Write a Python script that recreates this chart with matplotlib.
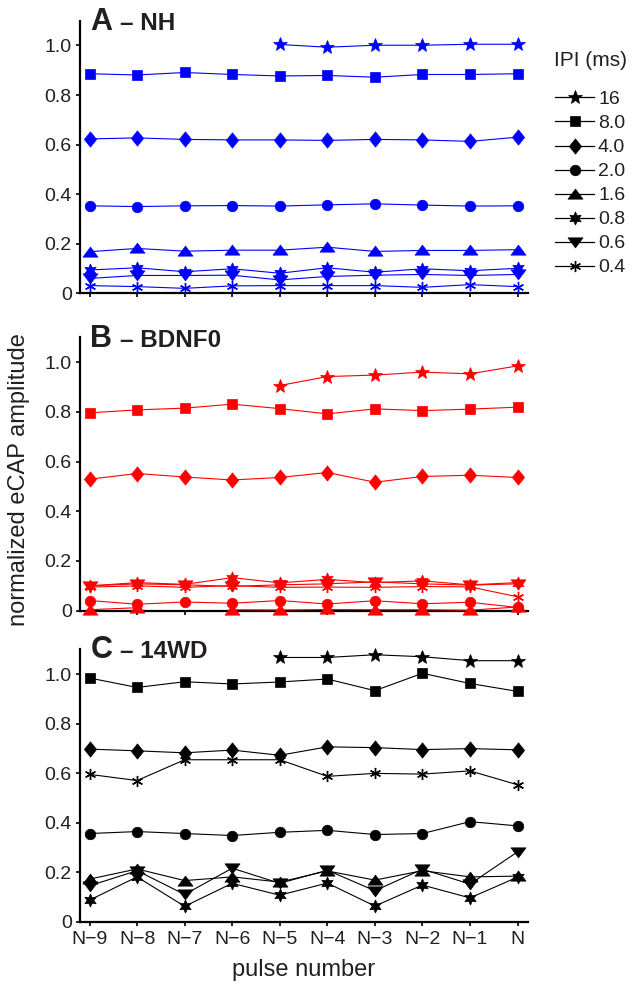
import numpy as np
import matplotlib
matplotlib.use("Agg")
import matplotlib.pyplot as plt
from matplotlib.lines import Line2D
from matplotlib.path import Path

plt.rcParams['font.family'] = ['Liberation Sans', 'DejaVu Sans']

nan = np.nan
pulse_labels = ["N\u22129", "N\u22128", "N\u22127", "N\u22126", "N\u22125",
                "N\u22124", "N\u22123", "N\u22122", "N\u22121", "N"]
ipi_labels = ["16", "8.0", "4.0", "2.0", "1.6", "0.8", "0.6", "0.4"]
panel_letters = ["A", "B", "C"]
panel_names = ["\u2013 NH", "\u2013 BDNF0", "\u2013 14WD"]
panel_colors = ["#0000ff", "#ff0000", "#000000"]

# Panel A - NH
nh_16 = [nan, nan, nan, nan, 1.004, 0.993, 1.001, 1.001, 1.005, 1.005]
nh_8 = [0.886, 0.881, 0.891, 0.883, 0.877, 0.879, 0.872, 0.883, 0.883, 0.886]
nh_4 = [0.623, 0.627, 0.621, 0.619, 0.619, 0.617, 0.621, 0.619, 0.613, 0.630]
nh_2 = [0.353, 0.350, 0.353, 0.354, 0.352, 0.357, 0.361, 0.356, 0.352, 0.353]
nh_1_6 = [0.168, 0.181, 0.170, 0.174, 0.174, 0.186, 0.169, 0.173, 0.173, 0.176]
nh_0_8 = [0.094, 0.103, 0.087, 0.099, 0.081, 0.103, 0.085, 0.099, 0.091, 0.101]
nh_0_6 = [0.060, 0.072, 0.072, 0.073, 0.054, 0.068, 0.073, 0.076, 0.072, 0.076]
nh_0_4 = [0.031, 0.027, 0.020, 0.030, 0.031, 0.031, 0.031, 0.024, 0.035, 0.027]

# Panel B - BDNF0
bd_16 = [nan, nan, nan, nan, 0.906, 0.942, 0.948, 0.960, 0.953, 0.985]
bd_8 = [0.796, 0.808, 0.815, 0.831, 0.813, 0.792, 0.812, 0.805, 0.811, 0.819]
bd_4 = [0.529, 0.552, 0.538, 0.526, 0.536, 0.556, 0.517, 0.540, 0.545, 0.536]
bd_2 = [0.041, 0.026, 0.035, 0.030, 0.041, 0.027, 0.040, 0.028, 0.034, 0.013]
bd_1_6 = [0.004, 0.012, nan, 0.004, 0.003, 0.005, 0.004, 0.004, 0.002, 0.015]
bd_0_8 = [0.100, 0.113, 0.106, 0.133, 0.112, 0.126, 0.113, 0.120, 0.104, 0.113]
bd_0_6 = [0.100, 0.108, 0.104, 0.098, 0.104, 0.108, 0.116, 0.108, 0.103, 0.108]
bd_0_4 = [0.095, 0.100, 0.094, 0.101, 0.094, 0.095, 0.094, 0.097, 0.096, 0.056]

# Panel C - 14WD
wd_16 = [nan, nan, nan, nan, 1.067, 1.067, 1.078, 1.070, 1.054, 1.054]
wd_8 = [0.984, 0.946, 0.969, 0.960, 0.968, 0.980, 0.933, 1.003, 0.962, 0.930]
wd_4 = [0.697, 0.690, 0.682, 0.693, 0.672, 0.706, 0.703, 0.695, 0.699, 0.694]
wd_2 = [0.356, 0.364, 0.356, 0.348, 0.361, 0.369, 0.352, 0.356, 0.404, 0.387]
wd_1_6 = [0.172, 0.213, 0.166, 0.181, 0.160, 0.205, 0.168, 0.206, 0.181, 0.184]
wd_0_8 = [0.087, 0.181, 0.062, 0.155, 0.107, 0.156, 0.063, 0.148, 0.096, 0.180]
wd_0_6 = [0.145, 0.206, 0.110, 0.216, 0.155, 0.208, 0.125, 0.212, 0.152, 0.282]
wd_0_4 = [0.595, 0.570, 0.654, 0.654, 0.654, 0.587, 0.599, 0.596, 0.609, 0.553]

panels = [
    [nh_16, nh_8, nh_4, nh_2, nh_1_6, nh_0_8, nh_0_6, nh_0_4],
    [bd_16, bd_8, bd_4, bd_2, bd_1_6, bd_0_8, bd_0_6, bd_0_4],
    [wd_16, wd_8, wd_4, wd_2, wd_1_6, wd_0_8, wd_0_6, wd_0_4],
]

# marker definitions
diamond = Path([(0, 1), (0.8, 0), (0, -1), (-0.8, 0), (0, 1)],
               [Path.MOVETO, Path.LINETO, Path.LINETO, Path.LINETO, Path.CLOSEPOLY])
tri_up = Path([(-1, -0.62), (1, -0.62), (0, 0.72), (-1, -0.62)],
              [Path.MOVETO, Path.LINETO, Path.LINETO, Path.CLOSEPOLY])
tri_dn = Path([(-1, 0.62), (1, 0.62), (0, -0.72), (-1, 0.62)],
              [Path.MOVETO, Path.LINETO, Path.LINETO, Path.CLOSEPOLY])
markers = ['*', 's', diamond, 'o', tri_up, (6, 1, 0), tri_dn, (6, 2, 0)]
msizes = [10.5, 6.6, 11.0, 7.6, 10.8, 9.5, 10.8, 8.0]

W, H = 633, 984
fig = plt.figure(figsize=(W / 100, H / 100), dpi=100)

ax_left, ax_right = 80.0, 528.0
panel_px = [(20.7, 293.3), (337.3, 610.7), (649.3, 921.7)]
x = np.arange(10)
text_color = "#231f20"

for p, (top, bot) in enumerate(panel_px):
    ax = fig.add_axes([ax_left / W, 1 - bot / H, (ax_right - ax_left) / W, (bot - top) / H])
    col = panel_colors[p]
    for s, vals in enumerate(panels[p]):
        is_ast = (s == 7)
        ax.plot(x, vals, color=col, lw=0.8, marker=markers[s], ms=msizes[s],
                markerfacecolor=col, markeredgecolor=col,
                markeredgewidth=1.0 if is_ast else 0.5, clip_on=False, zorder=3 + s * 0.01)
    ax.set_xlim(-0.2, 9.22)
    ax.set_ylim(0, 1.1)
    for sp in ['top', 'right']:
        ax.spines[sp].set_visible(False)
    for sp in ['left', 'bottom']:
        ax.spines[sp].set_linewidth(1.6)
        ax.spines[sp].set_zorder(2)
    ax.set_yticks([0, 0.2, 0.4, 0.6, 0.8, 1.0])
    ax.set_yticklabels(["0", "0.2", "0.4", "0.6", "0.8", "1.0"])
    ax.set_xticks(x)
    if p == 2:
        ax.set_xticklabels(pulse_labels)
    else:
        ax.set_xticklabels([])
    ax.tick_params(axis='both', direction='out', length=3, width=1.2,
                   labelsize=14, labelcolor=text_color, pad=3)
    ax.tick_params(axis='x', pad=4)
    # panel titles
    base_y = {0: 30.0, 1: 346.7, 2: 658.3}[p]
    ty = (bot - base_y) / (bot - top)
    tx = (90.5 - ax_left) / (ax_right - ax_left)
    t1 = ax.text(tx, ty, panel_letters[p], transform=ax.transAxes, fontsize=22,
                 fontweight='bold', va='baseline', ha='left', color=text_color)
    fig.canvas.draw()
    bb = t1.get_window_extent()
    x2 = ax.transAxes.inverted().transform((bb.x1 + 7, 0))[0]
    ax.text(x2, ty, panel_names[p], transform=ax.transAxes, fontsize=17.5,
            fontweight='bold', va='baseline', ha='left', color=text_color)

# axis labels
fig.text(19 / W, 1 - 480 / H, "normalized eCAP amplitude", rotation=90,
         ha='center', va='center', fontsize=17, color=text_color)
fig.text(304 / W, 1 - 970 / H, "pulse number", ha='center', va='center',
         fontsize=17, color=text_color)

# legend
fig.text(554 / W, 1 - 58 / H, "IPI (ms)", ha='left', va='center_baseline',
         fontsize=15, color=text_color)
for i, lab in enumerate(ipi_labels):
    yy = 1 - (97.3 + i * 24.1) / H
    fig.add_artist(Line2D([555 / W, 594 / W], [yy, yy], color='black', lw=0.9,
                          transform=fig.transFigure))
    fig.add_artist(Line2D([574.5 / W], [yy], color='black', marker=markers[i],
                          ms=msizes[i], markerfacecolor='black', markeredgecolor='black',
                          markeredgewidth=1.0 if i == 7 else 0.5, lw=0,
                          transform=fig.transFigure))
    fig.text(598 / W, yy, lab, ha='left', va='center_baseline', fontsize=14,
             color=text_color)

fig.savefig("out.png", dpi=100)
